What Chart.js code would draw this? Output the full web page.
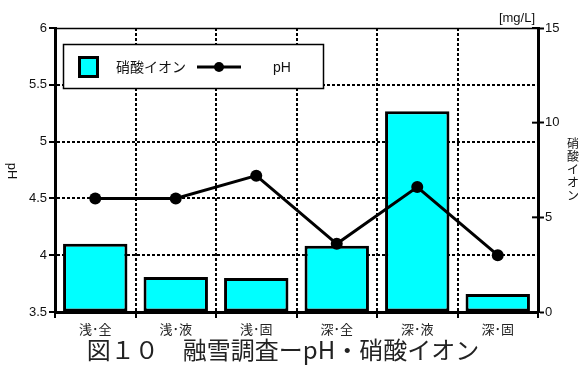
<!DOCTYPE html>
<html>
<head>
<meta charset="utf-8">
<script src="https://cdn.jsdelivr.net/npm/chart.js@4/dist/chart.umd.min.js"></script>
<style>
  html, body { margin: 0; padding: 0; background: #fff; }
  #wrap { width: 579px; height: 367px; position: relative; }
</style>
</head>
<body>
<div id="wrap"><canvas id="c" width="579" height="367"></canvas></div>
<script>
// Sampling sites (shallow / deep; whole, liquid, solid)
const categories = ['浅･全', '浅･液', '浅･固', '深･全', '深･液', '深･固'];
// Nitrate ion concentration [mg/L]
const nitrate = [3.6, 1.85, 1.8, 3.5, 10.6, 0.95];
// pH of the meltwater
const ph = [4.5, 4.5, 4.7, 4.1, 4.6, 4.0];
// Axis tick settings
const phTicks = { min: 3.5, max: 6, step: 0.5 };
const mgTicks = { min: 0, max: 15, step: 5 };

const LATIN = '"Liberation Sans", Arial, sans-serif';
const CJK = '"Noto Sans CJK JP", sans-serif';
const INK = '#111';

const decorations = {
  id: 'decorations',
  afterDatasetsDraw(chart) {
    const ctx = chart.ctx;
    ctx.save();
    // legend box
    const lx = 63.5, ly = 44.5, lw = 260, lh = 44;
    ctx.fillStyle = '#fff';
    ctx.fillRect(lx, ly, lw, lh);
    ctx.lineWidth = 1.5;
    ctx.strokeStyle = '#000';
    ctx.strokeRect(lx, ly, lw, lh);
    // nitrate swatch
    ctx.fillStyle = '#00ffff';
    ctx.fillRect(78, 56, 21, 22);
    ctx.lineWidth = 3;
    ctx.strokeRect(79.5, 57.5, 18, 19);
    ctx.fillStyle = INK;
    ctx.font = '14px ' + CJK;
    ctx.textBaseline = 'middle';
    ctx.textAlign = 'left';
    ctx.fillText('硝酸イオン', 116, 67);
    // pH swatch
    ctx.beginPath();
    ctx.lineWidth = 3;
    ctx.moveTo(197, 67);
    ctx.lineTo(241, 67);
    ctx.stroke();
    ctx.beginPath();
    ctx.fillStyle = '#000';
    ctx.arc(219, 67, 5, 0, Math.PI * 2);
    ctx.fill();
    ctx.fillStyle = INK;
    ctx.font = '14px ' + LATIN;
    ctx.fillText('pH', 273, 68);
    ctx.restore();
  },
  afterDraw(chart) {
    const ctx = chart.ctx;
    const area = chart.chartArea;
    const right = chart.scales.y1;
    ctx.save();
    // frame top
    ctx.strokeStyle = '#000';
    ctx.lineWidth = 1.5;
    ctx.beginPath();
    ctx.moveTo(area.left, area.top + 0.5);
    ctx.lineTo(area.right, area.top + 0.5);
    ctx.stroke();
    // inner half of the right-axis ticks
    ctx.lineWidth = 2;
    right.ticks.forEach(t => {
      const y = right.getPixelForValue(t.value);
      ctx.beginPath();
      ctx.moveTo(area.right - 6, y);
      ctx.lineTo(area.right, y);
      ctx.stroke();
    });
    // unit label
    ctx.fillStyle = INK;
    ctx.font = '13px ' + LATIN;
    ctx.textAlign = 'right';
    ctx.textBaseline = 'middle';
    ctx.fillText('[mg/L]', 535, 18);
    // left axis title, rotated clockwise
    ctx.save();
    ctx.translate(12, 171);
    ctx.rotate(Math.PI / 2);
    ctx.textAlign = 'center';
    ctx.textBaseline = 'middle';
    ctx.font = '13px ' + LATIN;
    ctx.fillText('pH', 0, 0);
    ctx.restore();
    // right axis title, stacked vertically
    ctx.font = '12px ' + CJK;
    ctx.textAlign = 'left';
    ctx.textBaseline = 'top';
    '硝酸イオン'.split('').forEach((ch, i) => {
      ctx.fillText(ch, 567, 137 + i * 13);
    });
    // figure caption
    ctx.font = '24px ' + CJK;
    ctx.textAlign = 'center';
    ctx.textBaseline = 'alphabetic';
    ctx.fillStyle = '#222';
    ctx.fillText('図１０　融雪調査ーpH・硝酸イオン', 283, 359);
    ctx.restore();
  }
};

new Chart(document.getElementById('c'), {
  data: {
    labels: categories,
    datasets: [
      {
        type: 'line',
        label: 'pH',
        data: ph,
        yAxisID: 'y',
        borderColor: '#000',
        borderWidth: 3,
        pointRadius: 6,
        pointBackgroundColor: '#000',
        pointBorderWidth: 0,
        tension: 0,
        order: 0
      },
      {
        type: 'bar',
        label: '硝酸イオン',
        data: nitrate,
        yAxisID: 'y1',
        backgroundColor: '#00ffff',
        borderColor: '#000',
        borderWidth: 3,
        borderSkipped: false,
        categoryPercentage: 1,
        barPercentage: 0.8,
        order: 1
      }
    ]
  },
  options: {
    responsive: false,
    animation: false,
    devicePixelRatio: 1,
    layout: { padding: { top: 28, left: 0, right: 0, bottom: 0 } },
    plugins: { legend: { display: false }, tooltip: { enabled: false }, title: { display: false } },
    scales: {
      x: {
        type: 'category',
        offset: true,
        afterFit(scale) { scale.height = 55; },
        grid: {
          offset: true,
          color: '#000',
          lineWidth: 2,
          drawTicks: true,
          tickLength: 6,
          tickWidth: 2,
          tickColor: '#000',
          tickBorderDash: []
        },
        border: { display: true, color: '#000', width: 3, dash: [3, 2] },
        ticks: { font: { family: CJK, size: 13 }, color: '#222', padding: 3, maxRotation: 0 }
      },
      y: {
        position: 'left',
        min: phTicks.min,
        max: phTicks.max,
        afterFit(scale) { scale.width = 55; },
        ticks: {
          stepSize: phTicks.step,
          font: { family: LATIN, size: 13 },
          color: INK,
          padding: 2,
          callback: v => String(parseFloat(Number(v).toFixed(2)))
        },
        grid: {
          color: c => (c.tick && (c.tick.value >= phTicks.max || c.tick.value <= phTicks.min)) ? 'rgba(0,0,0,0)' : '#000',
          lineWidth: 2,
          tickLength: 6,
          tickWidth: 2,
          tickColor: '#000',
          tickBorderDash: []
        },
        border: { display: true, color: '#000', width: 3, dash: [3, 2] }
      },
      y1: {
        position: 'right',
        min: mgTicks.min,
        max: mgTicks.max,
        afterFit(scale) { scale.width = 41; },
        ticks: {
          stepSize: mgTicks.step,
          font: { family: LATIN, size: 13 },
          color: INK,
          padding: 1
        },
        grid: {
          drawOnChartArea: false,
          tickLength: 6,
          tickWidth: 2,
          tickColor: '#000',
          tickBorderDash: []
        },
        border: { display: true, color: '#000', width: 3 }
      }
    }
  },
  plugins: [decorations]
});
</script>
</body>
</html>
